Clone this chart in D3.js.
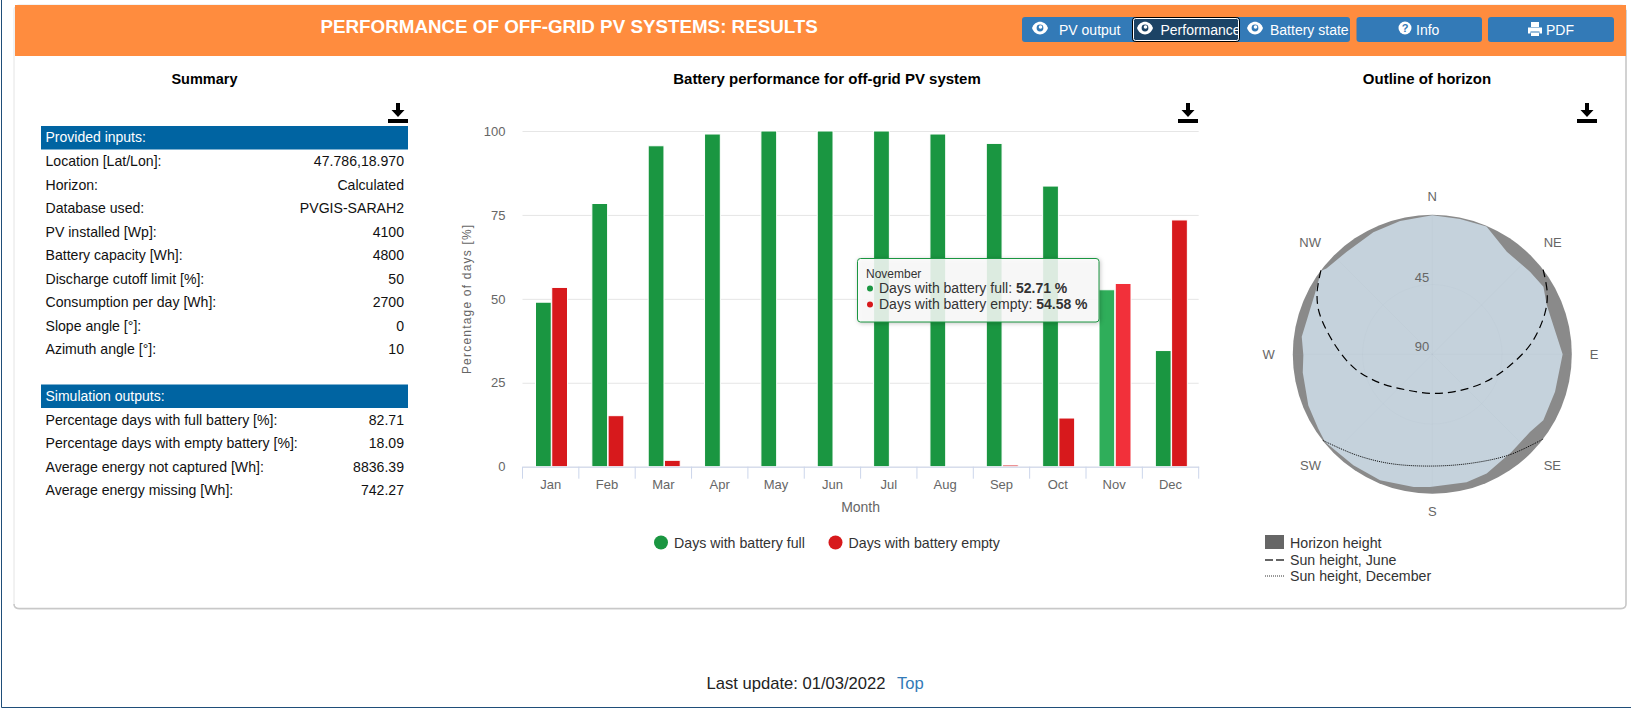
<!DOCTYPE html>
<html>
<head>
<meta charset="utf-8">
<title>Performance of off-grid PV systems</title>
<script src="https://cdn.jsdelivr.net/npm/d3@7"></script>
<style>
  html, body { margin: 0; padding: 0; background: #fff; overflow: hidden; }
  svg { display: block; font-family: "Liberation Sans", Arial, sans-serif; }
</style>
</head>
<body>
<svg id="page" width="1631" height="715"></svg>
<script>
// bar chart values
const months = ['Jan', 'Feb', 'Mar', 'Apr', 'May', 'Jun', 'Jul', 'Aug', 'Sep', 'Oct', 'Nov', 'Dec'];
const seriesNames = ['Days with battery full', 'Days with battery empty'];
const daysFull = [49, 78.4, 95.6, 99.1, 100, 100, 100, 99.1, 96.3, 83.6, 52.71, 34.6];
const daysEmpty = [53.4, 15.2, 1.9, 0, 0, 0, 0, 0, 0.5, 14.5, 54.58, 73.5];
const yTicks = [0, 25, 50, 75, 100];

// summary table
const inputLabels = ['Location [Lat/Lon]:', 'Horizon:', 'Database used:', 'PV installed [Wp]:', 'Battery capacity [Wh]:',
  'Discharge cutoff limit [%]:', 'Consumption per day [Wh]:', 'Slope angle [°]:', 'Azimuth angle [°]:'];
const inputValues = ['47.786,18.970', 'Calculated', 'PVGIS-SARAH2', '4100', '4800', '50', '2700', '0', '10'];
const outputLabels = ['Percentage days with full battery [%]:', 'Percentage days with empty battery [%]:',
  'Average energy not captured [Wh]:', 'Average energy missing [Wh]:'];
const outputValues = ['82.71', '18.09', '8836.39', '742.27'];

// horizon outline: azimuth in degrees, elevation in degrees
const horizonAz = [0, 11.6, 23, 36, 49.8, 58.7, 66.7, 90, 107, 120.7, 128.5, 141, 155.5, 165, 181, 188, 202.5, 215.4, 230.7, 237, 247.6, 262, 269.7, 277.7, 297.5, 307, 309, 320, 334.2, 346.4];
const horizonEl = [0.3, 0.9, 0.5, 8.2, 7.5, 6.1, 9.6, 5.9, 7.2, 6.7, 9.5, 8.8, 5.4, 4.6, 4.4, 3.5, 2, 2.1, 0.6, 2.2, 3.5, 5.6, 6.8, 5, 4.7, 0.3, 2.1, 3.8, 2.6, 1.5];
const juneAz = [-53, -62, -70, -84, -100.5, -119, -145, -180, -214, -242.6, -261, -276.4, -290, -298, -307.4];
const juneEl = [0, 5.8, 12.5, 26.5, 39.2, 51.7, 61.8, 64.8, 61.3, 51.4, 40, 25.7, 12.7, 6, 0];
const decAz = [127.4, 142, 159, 180, 201, 217, 232];
const decEl = [0, 8, 15, 17.9, 14.5, 8.6, 0];
const compass = ['N', 'NE', 'E', 'SE', 'S', 'SW', 'W', 'NW'];
const radialLabels = [45, 90];

const svg = d3.select('#page');

function renderFrame() {
  // page edge lines
  svg.append('path').attr('d', 'M1.5,0V707.5H1631').attr('fill', 'none').attr('stroke', '#1f4e79');

  // card
  svg.append('rect').attr('x', 14).attr('y', 5).attr('width', 1612).attr('height', 604).attr('rx', 5)
    .attr('fill', '#fff').attr('stroke', '#e4e4e4');
  svg.append('path').attr('d', 'M14,604 Q14,608.5 19,608.5 H1621 Q1626,608.5 1626,604 V10')
    .attr('fill', 'none').attr('stroke', '#c8c8c8').attr('stroke-width', 1.5);
  svg.append('rect').attr('x', 15).attr('y', 5).attr('width', 1611).attr('height', 51).attr('fill', '#ff8c3e');

  svg.append('text').attr('x', 320.5).attr('y', 32.5).attr('fill', '#fff').attr('font-weight', 'bold').attr('font-size', 18.8)
    .text('PERFORMANCE OF OFF-GRID PV SYSTEMS: RESULTS');

  const titles = [['Summary', 204.5, 14.5], ['Battery performance for off-grid PV system', 827, 15], ['Outline of horizon', 1427, 15]];
  svg.selectAll('text.paneltitle').data(titles).join('text')
    .attr('class', 'paneltitle')
    .attr('x', (d) => d[1])
    .attr('y', 84)
    .attr('text-anchor', 'middle')
    .attr('font-weight', 'bold')
    .attr('font-size', (d) => d[2])
    .attr('fill', '#000')
    .text((d) => d[0]);

  // download icons
  [398, 1188, 1587].forEach((x) => {
    svg.append('path')
      .attr('transform', `translate(${x},103)`)
      .attr('d', 'M-2,0H2V7H6.5L0,14L-6.5,7H-2Z M-10,16H10V20H-10Z')
      .attr('fill', '#000');
  });

  svg.append('text').attr('x', 706.5).attr('y', 688.5).attr('font-size', 16.6).attr('fill', '#222').text('Last update: 01/03/2022');
  svg.append('text').attr('x', 897).attr('y', 688.5).attr('font-size', 16.6).attr('fill', '#337ab7').text('Top');
}

function eyeIcon(g, x, y, pupil) {
  g.append('path')
    .attr('d', `M${x - 8},${y} C${x - 5},${y - 8.5} ${x + 5},${y - 8.5} ${x + 8},${y} C${x + 5},${y + 8.5} ${x - 5},${y + 8.5} ${x - 8},${y} Z`)
    .attr('fill', '#fff');
  g.append('circle').attr('cx', x).attr('cy', y).attr('r', 3.4).attr('fill', pupil);
  g.append('circle').attr('cx', x + 0.5).attr('cy', y - 1).attr('r', 1.8).attr('fill', '#fff');
}

function renderButtons() {
  const g = svg.append('g').attr('class', 'buttons');
  const defs = svg.append('defs');
  defs.append('clipPath').attr('id', 'clip-perf').append('rect').attr('x', 1133).attr('y', 17).attr('width', 105.5).attr('height', 25);
  defs.append('clipPath').attr('id', 'clip-batt').append('rect').attr('x', 1240).attr('y', 17).attr('width', 109).attr('height', 25);

  g.append('rect').attr('x', 1022).attr('y', 17).attr('width', 328).attr('height', 25).attr('rx', 3).attr('fill', '#337ab7');
  g.append('rect').attr('x', 1356.5).attr('y', 17).attr('width', 125.5).attr('height', 25).attr('rx', 3).attr('fill', '#337ab7');
  g.append('rect').attr('x', 1488).attr('y', 17).attr('width', 126).attr('height', 25).attr('rx', 3).attr('fill', '#337ab7');

  // focused button
  g.append('rect').attr('x', 1132.5).attr('y', 17.5).attr('width', 107).attr('height', 24).attr('rx', 3)
    .attr('fill', '#1c4365').attr('stroke', '#000');
  g.append('rect').attr('x', 1133.5).attr('y', 18.5).attr('width', 105).attr('height', 22).attr('rx', 2)
    .attr('fill', 'none').attr('stroke', '#fff');

  eyeIcon(g, 1040, 28, '#337ab7');
  eyeIcon(g, 1145, 28, '#1c4365');
  eyeIcon(g, 1255, 28, '#337ab7');

  const label = (text, x, clip) => {
    const t = g.append('text').attr('x', x).attr('y', 34.5).attr('font-size', 14).attr('fill', '#fff').text(text);
    if (clip) t.attr('clip-path', `url(#${clip})`);
  };
  label('PV output', 1059);
  label('Performance', 1160.5, 'clip-perf');
  label('Battery state', 1270, 'clip-batt');
  label('Info', 1416);
  label('PDF', 1546);

  // question mark icon
  g.append('circle').attr('cx', 1405).attr('cy', 28).attr('r', 6.5).attr('fill', '#fff');
  g.append('text').attr('x', 1405).attr('y', 32).attr('text-anchor', 'middle').attr('font-size', 11)
    .attr('font-weight', 'bold').attr('fill', '#337ab7').text('?');

  // printer icon
  g.append('path')
    .attr('d', 'M1531,22h8v5h-8Z M1528,27.5h14v6h-2.5v-2h-9v2h-2.5Z M1531,32.5h8v3.5h-8Z')
    .attr('fill', '#fff');
}

function renderTable() {
  const g = svg.append('g').attr('class', 'summary');
  const x0 = 41, x1 = 408;

  const block = (title, top, labels, values) => {
    g.append('rect').attr('x', x0).attr('y', top).attr('width', x1 - x0).attr('height', 23.5).attr('fill', '#0064a2');
    g.append('text').attr('x', x0 + 4.5).attr('y', top + 16).attr('font-size', 14).attr('fill', '#fff').text(title);
    labels.forEach((label, i) => {
      const y = top + 40 + i * 23.55;
      g.append('text').attr('x', x0 + 4.5).attr('y', y).attr('font-size', 14.1).attr('fill', '#111').text(label);
      g.append('text').attr('x', x1 - 4).attr('y', y).attr('font-size', 14.1).attr('fill', '#111')
        .attr('text-anchor', 'end').text(values[i]);
    });
  };

  block('Provided inputs:', 126, inputLabels, inputValues);
  block('Simulation outputs:', 384.5, outputLabels, outputValues);
}

function renderBarChart() {
  const plot = { left: 522.5, right: 1198.7, top: 131, bottom: 466.7 };
  const g = svg.append('g').attr('class', 'bars');

  const xScale = d3.scaleBand().domain(months).range([plot.left, plot.right]);
  const seriesScale = d3.scaleBand().domain([0, 1]).range([13, 45]).paddingInner(0.03);
  const yScale = d3.scaleLinear().domain([0, 100]).range([plot.bottom, plot.top]);

  // gridlines + y labels
  const yAxis = g.append('g')
    .attr('transform', `translate(${plot.left},0)`)
    .call(d3.axisLeft(yScale).tickValues(yTicks).tickSize(-(plot.right - plot.left)).tickPadding(17));
  yAxis.select('.domain').remove();
  yAxis.selectAll('line').attr('stroke', '#e6e6e6');
  yAxis.selectAll('text').attr('fill', '#666').attr('font-size', 13).attr('font-family', 'inherit');

  g.append('text')
    .attr('transform', `translate(471,${(plot.top + plot.bottom) / 2}) rotate(-90)`)
    .attr('text-anchor', 'middle')
    .attr('font-size', 12)
    .attr('letter-spacing', 1.2)
    .attr('fill', '#666')
    .text('Percentage of days [%]');

  // bars
  const colors = [['#1a9641', '#2fae5a'], ['#d7191c', '#f2303a']];
  [daysFull, daysEmpty].forEach((values, s) => {
    g.append('g').selectAll('rect').data(values).join('rect')
      .attr('x', (d, i) => xScale(months[i]) + seriesScale(s))
      .attr('y', (d) => yScale(d))
      .attr('width', seriesScale.bandwidth())
      .attr('height', (d) => yScale(0) - yScale(d))
      .attr('fill', (d, i) => colors[s][months[i] === 'Nov' ? 1 : 0])
      .attr('stroke', '#fff')
      .attr('stroke-width', 1);
  });

  // x axis, ticks sit on the category edges
  const xAxis = g.append('g')
    .attr('transform', `translate(0,${plot.bottom})`)
    .call(d3.axisBottom(xScale).tickSize(0).tickPadding(13));
  xAxis.select('.domain').attr('stroke', '#ccd6eb');
  xAxis.selectAll('text').attr('fill', '#666').attr('font-size', 13).attr('font-family', 'inherit');
  xAxis.selectAll('line.edge').data(months.concat('end')).join('line')
    .attr('class', 'edge')
    .attr('x1', (d) => d === 'end' ? plot.right : xScale(d))
    .attr('x2', (d) => d === 'end' ? plot.right : xScale(d))
    .attr('y1', 0).attr('y2', 12)
    .attr('stroke', '#ccd6eb');

  g.append('text').attr('x', (plot.left + plot.right) / 2).attr('y', 511.5)
    .attr('text-anchor', 'middle').attr('font-size', 14).attr('fill', '#666').text('Month');

  // legend
  const legendX = [661, 835.5];
  seriesNames.forEach((name, s) => {
    g.append('circle').attr('cx', legendX[s]).attr('cy', 542.5).attr('r', 7).attr('fill', colors[s][0]);
    g.append('text').attr('x', legendX[s] + 13).attr('y', 547.5).attr('font-size', 14.2).attr('fill', '#333').text(name);
  });

  // tooltip for November
  const tip = g.append('g').attr('class', 'tooltip');
  tip.append('rect').attr('x', 857.5).attr('y', 258.5).attr('width', 241.5).attr('height', 63.5).attr('rx', 3)
    .attr('fill', 'rgba(255,255,255,0.85)')
    .attr('stroke', colors[0][0])
    .style('filter', 'drop-shadow(1px 1px 2px rgba(0,0,0,0.25))');
  tip.append('text').attr('x', 866).attr('y', 278).attr('font-size', 12).attr('fill', '#333').text('November');
  const hovered = months.indexOf('Nov');
  [daysFull, daysEmpty].forEach((values, s) => {
    const y = s === 0 ? 293 : 309;
    tip.append('circle').attr('cx', 870).attr('cy', y - 4.5).attr('r', 3).attr('fill', colors[s][0]);
    const t = tip.append('text').attr('x', 879).attr('y', y).attr('font-size', 14).attr('fill', '#333');
    t.append('tspan').text(seriesNames[s] + ': ');
    t.append('tspan').attr('font-weight', 'bold').text(values[hovered].toFixed(2) + ' %');
  });
}

function renderPolar() {
  const cx = 1432.3, cy = 354.3, R = 139.5;
  const g = svg.append('g').attr('class', 'polar').attr('transform', `translate(${cx},${cy})`);
  const toRad = (deg) => deg * Math.PI / 180;
  const rScale = d3.scaleLinear().domain([90, 0]).range([0, R]);

  const radial = d3.lineRadial()
    .angle((d) => toRad(d[0]))
    .radius((d) => rScale(d[1]));

  g.append('circle').attr('r', R).attr('fill', '#8a8a8a');

  g.append('path')
    .datum(d3.zip(horizonAz, horizonEl))
    .attr('d', radial.curve(d3.curveLinearClosed))
    .attr('fill', '#c5d2dc');

  // faint grid
  const spokes = g.append('g').attr('stroke', '#9aa7b2').attr('stroke-opacity', 0.07).attr('fill', 'none');
  compass.forEach((c, i) => {
    const a = toRad(i * 45);
    spokes.append('line').attr('x2', R * Math.sin(a)).attr('y2', -R * Math.cos(a));
  });
  spokes.append('circle').attr('r', rScale(45));

  const sunLine = d3.lineRadial()
    .angle((d) => toRad(d[0]))
    .radius((d) => rScale(d[1]))
    .curve(d3.curveCatmullRom);

  g.append('path').datum(d3.zip(juneAz, juneEl)).attr('d', sunLine)
    .attr('fill', 'none').attr('stroke', '#000').attr('stroke-width', 1.2).attr('stroke-dasharray', '8,5');
  g.append('path').datum(d3.zip(decAz, decEl)).attr('d', sunLine)
    .attr('fill', 'none').attr('stroke', '#000').attr('stroke-width', 1).attr('stroke-dasharray', '1,1');

  // compass labels
  g.selectAll('text.compass').data(compass).join('text')
    .attr('class', 'compass')
    .attr('x', (d, i) => (R + 18) * Math.sin(toRad(i * 45)))
    .attr('y', (d, i) => -(R + 18) * Math.cos(toRad(i * 45)) + 4.5)
    .attr('text-anchor', (d, i) => i === 0 || i === 4 ? 'middle' : (i < 4 ? 'start' : 'end'))
    .attr('font-size', 13)
    .attr('fill', '#666')
    .text((d) => d);

  g.selectAll('text.radial').data(radialLabels).join('text')
    .attr('class', 'radial')
    .attr('x', -3)
    .attr('y', (d) => -rScale(d) - 3)
    .attr('text-anchor', 'end')
    .attr('font-size', 13)
    .attr('fill', '#666')
    .text((d) => d);

  // legend
  const lg = svg.append('g').attr('class', 'polar-legend');
  lg.append('rect').attr('x', 1265).attr('y', 535).attr('width', 19).attr('height', 14).attr('fill', '#666');
  lg.append('line').attr('x1', 1265).attr('x2', 1284).attr('y1', 560).attr('y2', 560)
    .attr('stroke', '#333').attr('stroke-width', 1.5).attr('stroke-dasharray', '8,3');
  lg.append('line').attr('x1', 1265).attr('x2', 1284).attr('y1', 576).attr('y2', 576)
    .attr('stroke', '#333').attr('stroke-dasharray', '1,1');
  ['Horizon height', 'Sun height, June', 'Sun height, December'].forEach((t, i) => {
    lg.append('text').attr('x', 1290).attr('y', [548, 565, 581][i]).attr('font-size', 14.2).attr('fill', '#333').text(t);
  });
}

renderFrame();
renderButtons();
renderTable();
renderBarChart();
renderPolar();
</script>
</body>
</html>
